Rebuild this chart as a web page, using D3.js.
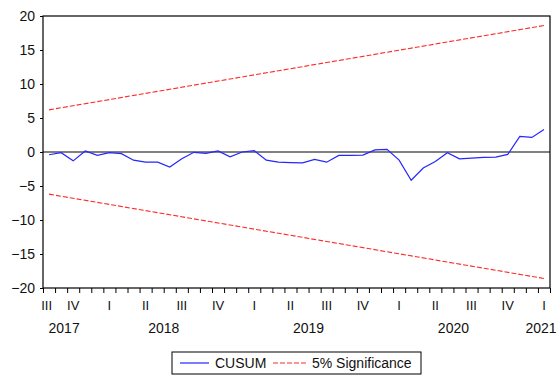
<!DOCTYPE html>
<html>
<head>
<meta charset="utf-8">
<script src="https://cdn.jsdelivr.net/npm/d3@7"></script>
<style>
  body { margin: 0; background: #fff; }
  text { font-family: "Liberation Sans", Arial, sans-serif; fill: #111; }
</style>
</head>
<body>
<script>
var width = 556,
    height = 378

// CUSUM by month, Aug 2017 .. Jan 2021 (index 0..41)
var cusum = [-0.4, -0.1, -1.3, 0.15, -0.5, -0.1, -0.25, -1.2, -1.5, -1.5,
             -2.2, -1.0, -0.05, -0.2, 0.15, -0.7, 0.0, 0.2, -1.2, -1.5,
             -1.55, -1.6, -1.1, -1.5, -0.5, -0.5, -0.45, 0.3, 0.4, -1.2,
             -4.15, -2.35, -1.4, -0.1, -1.0, -0.9, -0.8, -0.75, -0.35, 2.3,
             2.15, 3.3]

// 5% bounds at first and last observation
var sigIndex = [0, 41]
var sigUpper = [6.2, 18.6]
var sigLower = [-6.2, -18.6]

// quarter labels and the month index they sit on
var quarterLabels = ["III", "IV", "I", "II", "III", "IV", "I", "II", "III", "IV", "I", "II", "III", "IV", "I"]
var quarterIndex = [-0.2, 2, 5, 8, 11, 14, 17, 20, 23, 26, 29, 32, 35, 38, 41]

var yearLabels = ["2017", "2018", "2019", "2020", "2021"]
var yearIndex = [1.25, 9.5, 21.5, 33.5, 41]

var yTicks = [-20, -15, -10, -5, 0, 5, 10, 15, 20]

var plot = {left: 43, right: 550, top: 16, bottom: 288}

var x = d3.scaleLinear()
    .domain([-0.5, cusum.length - 0.5])
    .range([plot.left, plot.right])

var y = d3.scaleLinear()
    .domain([-20, 20])
    .range([plot.bottom, plot.top])

var svg = d3.select('body').append('svg')
    .attr("width", width)
    .attr("height", height)

// Zero line
svg.append("line")
    .attr("x1", plot.left).attr("x2", plot.right)
    .attr("y1", y(0)).attr("y2", y(0))
    .attr("stroke", "#808080")
    .attr("stroke-width", 2)

// Significance bounds
var sigLine = d3.line()
    .x(function(d) { return x(d[0]) })
    .y(function(d) { return y(d[1]) })

;[sigUpper, sigLower].forEach(function(s) {
    svg.append("path")
        .attr("d", sigLine(d3.zip(sigIndex, s)))
        .attr("fill", "none")
        .attr("stroke", "#ff2a2a")
        .attr("stroke-width", 1.1)
        .attr("stroke-dasharray", "5,2")
})

// CUSUM line
var line = d3.line()
    .x(function(d, i) { return x(i) })
    .y(function(d) { return y(d) })

svg.append("path")
    .attr("d", line(cusum))
    .attr("fill", "none")
    .attr("stroke", "#2626ff")
    .attr("stroke-width", 1.2)

// Frame
svg.append("rect")
    .attr("x", plot.left).attr("y", plot.top)
    .attr("width", plot.right - plot.left)
    .attr("height", plot.bottom - plot.top)
    .attr("fill", "none")
    .attr("stroke", "#000")
    .attr("stroke-width", 1.2)

// Y axis
var yAxis = svg.append("g")
    .attr("transform", "translate(" + plot.left + ",0)")
    .call(d3.axisLeft(y).tickValues(yTicks).tickSize(3).tickPadding(5))
yAxis.select(".domain").remove()
yAxis.selectAll("text")
    .style("font-size", "14px")
    .style("font-family", "Liberation Sans, Arial, sans-serif")
    .attr("fill", "#111")

// X axis: one tick per month boundary
var monthEdges = d3.range(cusum.length + 1).map(function(i) { return i - 0.5 })
var xAxis = svg.append("g")
    .attr("transform", "translate(0," + plot.bottom + ")")
    .call(d3.axisBottom(x).tickValues(monthEdges).tickSize(5).tickFormat(""))
xAxis.select(".domain").remove()

svg.selectAll(".quarter")
    .data(quarterLabels)
    .enter().append("text")
    .attr("class", "quarter")
    .attr("x", function(d, i) { return x(quarterIndex[i]) })
    .attr("y", 305)
    .attr("dy", "0.35em")
    .attr("text-anchor", "middle")
    .style("font-size", "13px")
    .text(function(d) { return d })

svg.selectAll(".year")
    .data(yearLabels)
    .enter().append("text")
    .attr("class", "year")
    .attr("x", function(d, i) { return Math.min(x(yearIndex[i]), width - 15) })
    .attr("y", 328)
    .attr("dy", "0.35em")
    .attr("text-anchor", "middle")
    .style("font-size", "14px")
    .text(function(d) { return d })

// Legend
var legend = svg.append("g")
legend.append("rect")
    .attr("x", 172).attr("y", 352)
    .attr("width", 249).attr("height", 22)
    .attr("fill", "#fff")
    .attr("stroke", "#000")
legend.append("line")
    .attr("x1", 180).attr("x2", 209).attr("y1", 363).attr("y2", 363)
    .attr("stroke", "#2626ff").attr("stroke-width", 1.2)
legend.append("text")
    .attr("x", 215).attr("y", 363).attr("dy", "0.35em")
    .style("font-size", "14px")
    .text("CUSUM")
legend.append("line")
    .attr("x1", 273).attr("x2", 308).attr("y1", 363).attr("y2", 363)
    .attr("stroke", "#ff2a2a").attr("stroke-width", 1.1)
    .attr("stroke-dasharray", "5,2")
legend.append("text")
    .attr("x", 312).attr("y", 363).attr("dy", "0.35em")
    .style("font-size", "14px")
    .text("5% Significance")
</script>
</body>
</html>
